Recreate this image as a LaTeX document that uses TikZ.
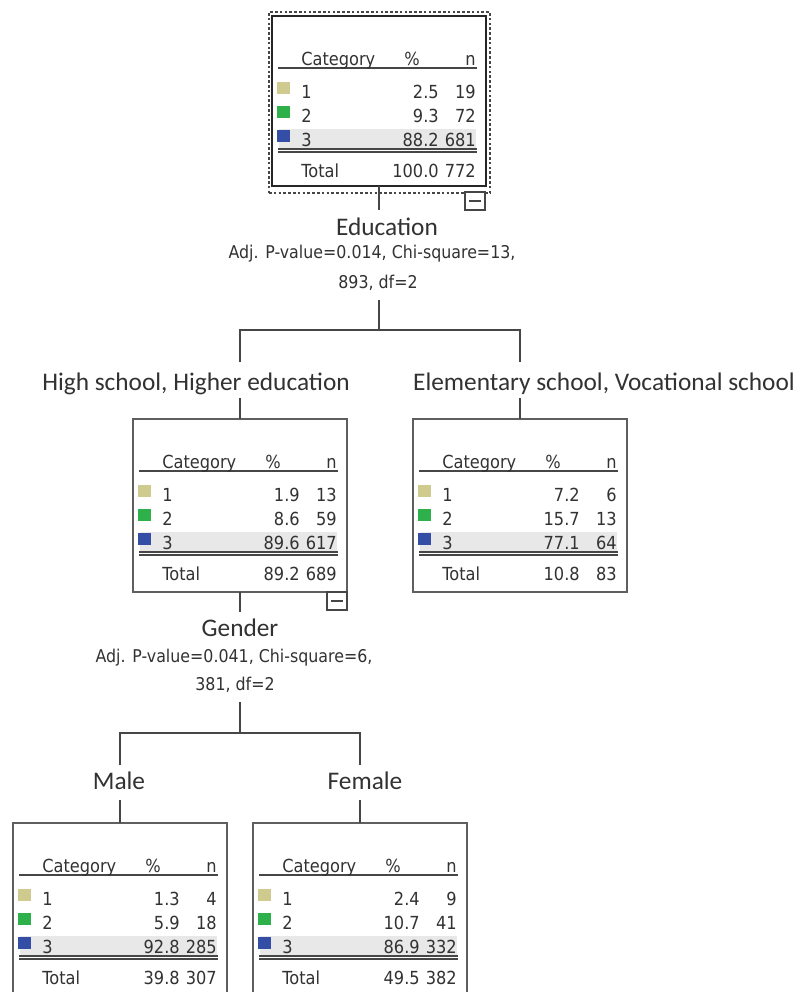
\documentclass[tikz,border=0pt]{standalone}
\usepackage{fontspec}
\setmainfont{Carlito}
\newfontfamily\tabfont[FakeStretch=0.9]{DejaVu Sans}
\definecolor{cA}{RGB}{207,202,142}
\definecolor{cB}{RGB}{46,177,74}
\definecolor{cC}{RGB}{52,78,166}
\definecolor{shadeg}{RGB}{232,232,232}
\definecolor{txt}{RGB}{50,50,50}
\definecolor{boxgray}{RGB}{95,95,95}
\definecolor{linegray}{RGB}{70,70,70}
\tikzset{
  tbox/.style={draw=boxgray, line width=1.1pt, fill=white, anchor=north west,
    inner sep=0pt, outer sep=0pt, minimum width=160.5pt, minimum height=129.75pt},
  conn/.style={draw=linegray, line width=1.1pt},
  tl/.style={anchor=base west, inner sep=0pt, font=\tabfont\fontsize{13.5}{15}\selectfont, text=txt},
  tr/.style={anchor=base east, inner sep=0pt, font=\tabfont\fontsize{13.5}{15}\selectfont, text=txt},
  tc/.style={anchor=base, inner sep=0pt, font=\tabfont\fontsize{13.5}{15}\selectfont, text=txt},
  lab/.style={anchor=base, inner sep=0pt, font=\fontsize{19}{21}\selectfont, text=txt},
  stat/.style={anchor=base, inner sep=0pt, font=\tabfont\fontsize{13.2}{15}\selectfont, text=txt},
  tline/.style={draw=linegray, line width=0.9pt},
  mbox/.style={draw=linegray, line width=0.9pt, fill=white, anchor=north west,
    inner sep=0pt, outer sep=0pt, minimum width=15pt, minimum height=13.5pt},
}
% #1 prefix, #2 p1, #3 n1, #4 p2, #5 n2, #6 p3, #7 n3, #8 ptot, #9 ntot
\newcommand\dtable[9]{%
  \fill[shadeg] (7,113) rectangle (204,133);
  \draw[tline] (6,52) -- (205,52);
  \draw[tline] (6,133) -- (205,133);
  \draw[tline] (6,136) -- (205,136);
  \node[tl] (#1-hc) at (29,49) {Category};
  \node[tc] (#1-hp) at (140,49) {\%};
  \node[tr] (#1-hn) at (204,49) {n};
  \fill[cA] (5,66) rectangle (18,78);
  \fill[cB] (5,90) rectangle (18,102);
  \fill[cC] (5,114) rectangle (18,126);
  \node[tl] (#1-l1) at (29,82) {1};
  \node[tl] (#1-l2) at (29,106) {2};
  \node[tl] (#1-l3) at (29,130) {3};
  \node[tr] (#1-p1) at (167,82) {#2};
  \node[tr] (#1-n1) at (204,82) {#3};
  \node[tr] (#1-p2) at (167,106) {#4};
  \node[tr] (#1-n2) at (204,106) {#5};
  \node[tr] (#1-p3) at (167,130) {#6};
  \node[tr] (#1-n3) at (204,130) {#7};
  \node[tl] (#1-lt) at (29,161) {Total};
  \node[tr] (#1-pt) at (167,161) {#8};
  \node[tr] (#1-nt) at (204,161) {#9};
}
\begin{document}
\begin{tikzpicture}[x=0.75pt,y=-0.75pt]
\fill[white] (0,0) rectangle (798,992);
\useasboundingbox (0,0) rectangle (798,992);
\clip (0,0) rectangle (798,992);

% ---------- root ----------
\node[draw=linegray, line width=1.6pt, dash pattern=on 2pt off 1.6pt, anchor=north west, inner sep=0pt, outer sep=0pt,
      minimum width=165.75pt, minimum height=135.75pt] (rootf) at (269,12) {};
\node[tbox, draw=black!85, line width=2.2pt, minimum height=127.5pt] (root) at (272,16) {};
\begin{scope}[shift={(root.north west)}]
  \dtable{r}{2.5}{19}{9.3}{72}{88.2}{681}{100.0}{772}
\end{scope}
\node[mbox] (rootm) at (465,192) {};
\draw[tline] ([xshift=-4.5pt]rootm.center) -- ([xshift=4.5pt]rootm.center);

\coordinate (e1) at (379,210);
\draw[conn] (root.south) -- (e1);
\node[lab] (edu) at (387,235) {Education};
\node[stat] (eduA) at (372,258) {Adj. P-value=0.014, Chi-square=13,};
\node[stat] (eduB) at (378,288) {893, df=2};
\coordinate (e2) at (379,300);
\coordinate (e3) at (379,330);
\coordinate (eL) at (240,330);
\coordinate (eR) at (520,330);
\coordinate (eL2) at (240,362);
\coordinate (eR2) at (520,362);
\draw[conn] (e2) -- (e3);
\draw[conn] (eL2) -- (eL) -- (eR) -- (eR2);
\node[lab] (hs) at (196,390) {High school, Higher education};
\node[lab] (es) at (604,390) {Elementary school, Vocational school};

% ---------- level 2 ----------
\node[tbox] (b2) at (133,419) {};
\begin{scope}[shift={(b2.north west)}]
  \dtable{a}{1.9}{13}{8.6}{59}{89.6}{617}{89.2}{689}
\end{scope}
\node[tbox] (b3) at (413,419) {};
\begin{scope}[shift={(b3.north west)}]
  \dtable{b}{7.2}{6}{15.7}{13}{77.1}{64}{10.8}{83}
\end{scope}
\coordinate (hsb) at (240,398);
\coordinate (esb) at (520,398);
\draw[conn] (hsb) -- (b2.north);
\draw[conn] (esb) -- (b3.north);
\node[mbox] (b2m) at (327,592) {};
\draw[tline] ([xshift=-4.5pt]b2m.center) -- ([xshift=4.5pt]b2m.center);

\coordinate (g1) at (240,612);
\draw[conn] (b2.south) -- (g1);
\node[lab] (gen) at (240,636) {Gender};
\node[stat] (genA) at (234,662) {Adj. P-value=0.041, Chi-square=6,};
\node[stat] (genB) at (235,690) {381, df=2};
\coordinate (g2) at (240,702);
\coordinate (g3) at (240,733);
\coordinate (gL) at (120,733);
\coordinate (gR) at (360,733);
\coordinate (gL2) at (120,765);
\coordinate (gR2) at (360,765);
\draw[conn] (g2) -- (g3);
\draw[conn] (gL2) -- (gL) -- (gR) -- (gR2);
\node[lab] (male) at (119,789) {Male};
\node[lab] (fem) at (365,789) {Female};

% ---------- level 3 ----------
\node[tbox] (b4) at (13,823) {};
\begin{scope}[shift={(b4.north west)}]
  \dtable{c}{1.3}{4}{5.9}{18}{92.8}{285}{39.8}{307}
\end{scope}
\node[tbox] (b5) at (253,823) {};
\begin{scope}[shift={(b5.north west)}]
  \dtable{d}{2.4}{9}{10.7}{41}{86.9}{332}{49.5}{382}
\end{scope}
\coordinate (mb) at (120,800);
\coordinate (fb) at (360,800);
\draw[conn] (mb) -- (b4.north);
\draw[conn] (fb) -- (b5.north);
\end{tikzpicture}
\end{document}
